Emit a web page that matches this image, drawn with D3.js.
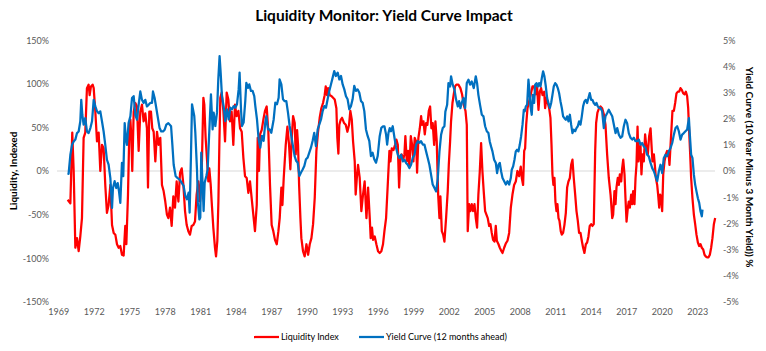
<!DOCTYPE html>
<html>
<head>
<meta charset="utf-8">
<script src="https://cdn.jsdelivr.net/npm/d3@7"></script>
<style>
  body { margin: 0; background: #fff; }
  .chart text { font-family: Lato, "Open Sans", sans-serif; }
</style>
</head>
<body>
<svg class="chart"></svg>
<script>
// decimal year, liquidity index in % (left axis)
const liquidityIndex = [
  [1969.79,-33],[1970.02,-37],[1970.18,44],[1970.30,0],[1970.44,-88],[1970.58,-77],[1970.72,-92],[1970.86,-75],[1971.00,-54],[1971.14,38],[1971.28,44],[1971.42,95],[1971.56,99],[1971.65,87],[1971.76,97],[1971.90,99],[1971.99,95],[1972.13,68],[1972.27,34],[1972.41,44],[1972.55,0],[1972.69,30],[1972.83,26],[1972.97,-16],[1973.11,-48],[1973.25,-39],[1973.40,-16],[1973.54,-62],[1973.68,-71],[1973.82,-73],[1973.96,-84],[1974.10,-88],[1974.24,-86],[1974.38,-96],[1974.52,-97],[1974.66,-63],[1974.75,-84],[1974.89,-27],[1975.00,44],[1975.09,59],[1975.17,40],[1975.25,0],[1975.37,68],[1975.51,78],[1975.65,74],[1975.79,23],[1975.93,68],[1976.07,76],[1976.21,57],[1976.35,66],[1976.49,49],[1976.58,-19],[1976.69,68],[1976.83,68],[1976.94,49],[1977.06,45],[1977.20,11],[1977.34,45],[1977.48,30],[1977.62,38],[1977.76,-16],[1977.90,-23],[1978.04,-35],[1978.18,-50],
  [1978.30,-54],[1978.44,-42],[1978.58,-63],[1978.72,-29],[1978.86,-42],[1979.00,-12],[1979.15,-35],[1979.29,-2],[1979.43,3],[1979.57,-16],[1979.71,-46],[1979.85,-62],[1979.99,-69],[1980.13,-73],[1980.27,-63],[1980.41,-62],[1980.55,-58],[1980.69,-27],[1980.84,-12],[1980.98,-35],[1981.12,0],[1981.26,84],[1981.34,76],[1981.45,38],[1981.54,19],[1981.68,-12],[1981.76,3],[1981.88,-16],[1981.96,-35],[1982.10,-65],[1982.24,-88],[1982.33,-98],[1982.44,-80],[1982.53,-35],[1982.61,30],[1982.69,84],[1982.81,90],[1982.95,69],[1983.09,34],[1983.23,90],[1983.37,82],[1983.51,57],[1983.65,68],[1983.79,30],[1983.93,76],[1984.07,63],[1984.22,69],[1984.36,49],[1984.50,45],[1984.64,15],[1984.78,-6],[1984.92,-8],[1985.06,-25],[1985.20,-12],[1985.34,-31],[1985.48,-50],[1985.62,-69],[1985.77,-39],[1985.85,38],[1985.96,0],[1986.05,42],[1986.19,47],[1986.33,59],[1986.47,69],[1986.61,74],[1986.75,45],[1986.89,-16],[1987.03,-62],[1987.17,-69],[1987.31,-79],[1987.46,-84],[1987.60,-69],
  [1987.71,-54],[1987.85,-19],[1987.94,-39],[1988.05,-8],[1988.22,30],[1988.36,51],[1988.50,30],[1988.61,2],[1988.73,38],[1988.84,63],[1988.98,55],[1989.06,19],[1989.18,47],[1989.26,30],[1989.35,-16],[1989.46,-54],[1989.54,-77],[1989.68,-92],[1989.82,-98],[1989.97,-84],[1990.11,-96],[1990.25,-84],[1990.39,-77],[1990.53,-61],[1990.67,-31],[1990.81,23],[1990.95,45],[1991.09,61],[1991.23,72],[1991.37,78],[1991.51,87],[1991.60,97],[1991.71,87],[1991.80,95],[1991.94,87],[1992.08,86],[1992.22,84],[1992.36,82],[1992.50,72],[1992.58,38],[1992.67,20],[1992.75,53],[1992.87,59],[1992.98,61],[1993.15,55],[1993.29,53],[1993.43,45],[1993.57,53],[1993.68,69],[1993.80,59],[1993.91,34],[1994.05,11],[1994.13,-27],[1994.25,-4],[1994.33,7],[1994.47,-8],[1994.61,-46],[1994.75,-27],[1994.89,-12],[1995.04,-54],[1995.18,-19],[1995.32,-54],[1995.40,-77],[1995.51,-65],[1995.60,-79],[1995.74,-75],[1995.88,-84],[1996.02,-92],[1996.16,-94],[1996.30,-92],[1996.44,-84],
  [1996.56,-69],[1996.70,-54],[1996.84,-16],[1996.98,23],[1997.07,11],[1997.18,26],[1997.32,24],[1997.46,30],[1997.57,36],[1997.69,30],[1997.80,-19],[1997.91,15],[1998.02,19],[1998.14,13],[1998.25,19],[1998.33,40],[1998.45,11],[1998.56,23],[1998.67,5],[1998.79,40],[1998.90,30],[1999.01,11],[1999.12,38],[1999.24,34],[1999.32,-2],[1999.43,38],[1999.55,49],[1999.66,63],[1999.74,53],[1999.86,57],[1999.97,42],[2000.08,55],[2000.19,53],[2000.31,69],[2000.42,74],[2000.53,49],[2000.64,55],[2000.76,30],[2000.87,57],[2000.98,34],[2001.10,-27],[2001.21,-54],[2001.29,-29],[2001.41,-69],[2001.52,-73],[2001.63,-81],[2001.77,-54],[2001.91,-23],[2002.00,7],[2002.11,34],[2002.19,57],[2002.31,78],[2002.42,88],[2002.53,97],[2002.64,99],[2002.81,99],[2002.98,95],[2003.12,88],[2003.26,76],[2003.41,69],[2003.52,53],[2003.60,-69],[2003.72,-38],[2003.83,-46],[2003.94,-38],[2004.05,-46],[2004.17,-38],[2004.28,-54],[2004.39,-65],[2004.50,-27],[2004.62,0],[2004.73,32],[2004.84,0],[2004.95,-23],[2005.07,-46],[2005.18,-50],[2005.29,-54],[2005.41,-63],[2005.52,-61],[2005.63,-71],[2005.74,-79],[2005.86,-81],
  [2005.97,-63],[2006.06,-80],[2006.20,-84],[2006.31,-88],[2006.45,-92],[2006.54,-94],[2006.68,-88],[2006.82,-83],[2006.96,-80],[2007.10,-71],[2007.24,-42],[2007.38,-27],[2007.52,-16],[2007.66,-12],[2007.80,0],[2007.94,-6],[2008.08,5],[2008.17,-8],[2008.28,-16],[2008.37,23],[2008.45,26],[2008.54,53],[2008.65,72],[2008.79,80],[2008.93,88],[2009.07,97],[2009.21,97],[2009.35,88],[2009.46,97],[2009.58,70],[2009.69,91],[2009.80,95],[2009.92,87],[2010.06,91],[2010.14,72],[2010.25,84],[2010.37,78],[2010.48,72],[2010.59,61],[2010.68,30],[2010.76,-4],[2010.84,-16],[2010.93,-8],[2011.01,-35],[2011.10,-46],[2011.18,-38],[2011.27,-54],[2011.35,-57],[2011.46,-69],[2011.55,-73],[2011.66,-71],[2011.77,-62],[2011.89,-48],[2012.00,-19],[2012.11,-12],[2012.23,-8],[2012.34,7],[2012.45,13],[2012.56,-8],[2012.68,-27],[2012.79,-46],[2012.90,-57],[2013.01,-71],[2013.13,-71],[2013.24,-80],[2013.35,-88],[2013.46,-94],[2013.58,-84],[2013.69,-82],[2013.80,-75],[2013.91,-63],[2014.03,-61],[2014.14,-63],[2014.25,-61],[2014.37,23],[2014.45,55],[2014.56,67],[2014.70,72],
  [2014.82,74],[2014.96,72],[2015.10,65],[2015.24,53],[2015.38,19],[2015.52,-8],[2015.67,-27],[2015.81,-54],[2015.89,-50],[2016.00,-23],[2016.09,-38],[2016.17,-19],[2016.28,-8],[2016.37,-16],[2016.45,-4],[2016.57,-12],[2016.65,3],[2016.74,13],[2016.85,-4],[2016.93,-31],[2017.02,-58],[2017.13,-42],[2017.21,-35],[2017.30,-42],[2017.41,-27],[2017.50,-38],[2017.58,-23],[2017.69,-38],[2017.78,-8],[2017.86,7],[2017.95,51],[2018.03,11],[2018.12,23],[2018.20,30],[2018.28,-4],[2018.37,19],[2018.48,11],[2018.59,42],[2018.71,26],[2018.82,19],[2018.93,40],[2019.05,49],[2019.13,30],[2019.21,11],[2019.33,19],[2019.41,7],[2019.50,-8],[2019.61,-16],[2019.69,-27],[2019.78,-42],[2019.86,-27],[2019.95,-31],[2020.03,-46],[2020.12,-4],[2020.23,11],[2020.34,19],[2020.45,23],[2020.57,21],[2020.65,7],[2020.74,30],[2020.82,49],[2020.90,69],[2021.02,69],[2021.13,78],[2021.24,89],[2021.36,91],[2021.47,91],[2021.58,95],[2021.69,93],[2021.81,89],[2021.92,88],[2022.03,91],[2022.14,86],[2022.23,72],[2022.31,46],[2022.40,19],[2022.48,-8],[2022.59,-31],[2022.71,-50],[2022.82,-61],[2022.93,-73],[2023.05,-82],[2023.16,-86],[2023.27,-84],[2023.38,-88],[2023.50,-90],[2023.61,-96],[2023.72,-98],[2023.83,-99],[2023.95,-99],[2024.06,-96],[2024.17,-88],[2024.28,-77],[2024.40,-61],[2024.51,-54]
];

// decimal year, 10y minus 3m yield in % (right axis), 12 months ahead
const yieldCurve = [
  [1969.79,-0.08],[1969.87,-0.11],[1970.02,0.62],[1970.16,1.00],[1970.30,1.13],[1970.44,1.20],[1970.58,1.45],[1970.72,1.51],[1970.86,1.90],[1970.94,2.72],[1971.03,2.15],[1971.14,1.77],[1971.28,2.02],[1971.42,1.51],[1971.56,1.45],[1971.71,1.64],[1971.85,1.90],[1971.99,2.72],[1972.13,2.47],[1972.27,2.28],[1972.41,2.21],[1972.55,2.28],[1972.69,1.90],[1972.83,1.51],[1972.97,1.00],[1973.11,0.43],[1973.25,0.24],[1973.40,-0.27],[1973.54,-1.41],[1973.62,-0.65],[1973.76,-0.39],[1973.90,-0.65],[1974.02,-0.46],[1974.13,-0.78],[1974.24,-1.22],[1974.38,0.31],[1974.49,-0.20],[1974.61,1.83],[1974.72,1.20],[1974.80,1.00],[1974.94,1.83],[1975.09,2.09],[1975.23,2.79],[1975.37,2.86],[1975.51,2.14],[1975.65,1.96],[1975.79,2.53],[1975.93,3.04],[1976.07,2.72],[1976.21,2.60],[1976.35,2.72],[1976.49,2.47],[1976.63,2.53],[1976.77,2.60],[1976.92,2.60],[1977.00,3.04],[1977.14,2.79],[1977.28,2.41],[1977.42,2.02],[1977.56,1.64],[1977.70,1.51],[1977.85,1.51],[1977.99,1.58],[1978.13,1.77],
  [1978.30,1.83],[1978.53,1.71],[1978.64,1.00],[1978.75,0.24],[1978.92,-0.20],[1979.09,-0.27],[1979.26,-0.33],[1979.59,-0.57],[1979.73,-0.95],[1979.87,-1.08],[1980.01,-0.83],[1980.10,-1.59],[1980.21,0.57],[1980.30,2.55],[1980.49,2.10],[1980.58,1.46],[1980.72,0.06],[1980.80,-1.21],[1980.92,-1.85],[1981.00,-1.78],[1981.08,0.70],[1981.20,-0.57],[1981.28,-1.53],[1981.37,-0.45],[1981.51,-0.19],[1981.62,0.06],[1981.73,1.21],[1981.90,2.93],[1982.04,1.59],[1982.13,2.23],[1982.27,1.72],[1982.41,2.23],[1982.52,3.50],[1982.63,4.39],[1982.72,3.76],[1982.83,2.86],[1982.97,2.48],[1983.11,1.91],[1983.25,2.36],[1983.40,1.97],[1983.54,2.42],[1983.68,2.36],[1983.82,2.48],[1983.96,2.42],[1984.10,2.55],[1984.24,3.12],[1984.32,3.76],[1984.44,2.36],[1984.52,1.72],[1984.66,1.85],[1984.80,2.67],[1984.89,3.37],[1985.03,3.18],[1985.14,3.31],[1985.28,3.06],[1985.42,3.06],[1985.56,2.86],[1985.65,2.48],[1985.79,1.97],[1985.93,1.21],[1986.07,0.89],[1986.21,1.34],[1986.35,1.15],[1986.49,1.85],[1986.58,2.10],[1986.72,1.59],[1986.86,1.59],[1987.00,1.46],[1987.20,1.97],[1987.34,2.61],[1987.48,2.55],[1987.62,2.80],[1987.70,3.50],[1987.85,3.31],[1987.99,2.74],[1988.13,2.67],[1988.27,2.67],[1988.41,2.23],[1988.55,1.72],[1988.69,1.34],[1988.83,0.95],[1988.97,0.57],[1989.11,0.38],[1989.23,0.32],[1989.37,-0.19],[1989.51,-0.06],[1989.65,0.06],[1989.79,0.19],[1989.93,0.45],[1990.07,0.51],[1990.21,0.70],[1990.35,0.89],[1990.49,1.15],[1990.63,1.46],[1990.77,0.95],[1990.92,1.59],[1991.06,1.78],[1991.20,1.97],[1991.34,2.29],[1991.48,2.48],[1991.62,2.42],[1991.76,2.74],[1991.90,3.06],[1992.04,3.31],[1992.18,3.56],[1992.32,3.82],[1992.46,3.63],[1992.61,3.76],[1992.75,3.50],[1992.89,3.63],[1993.03,3.31],[1993.17,3.12],[1993.31,2.86],[1993.45,2.74],[1993.59,2.36],[1993.73,2.48],[1993.87,2.74],[1994.01,3.25],[1994.15,3.06],[1994.30,3.12],[1994.44,2.99],[1994.58,2.67],[1994.72,2.61],[1994.86,2.29],[1995.00,1.59],[1995.14,1.34],[1995.28,1.15],[1995.42,0.57],[1995.56,0.70],[1995.70,0.45],[1995.85,0.32],[1995.99,0.57],
  [1996.16,1.33],[1996.30,1.65],[1996.44,1.71],[1996.56,1.71],[1996.70,1.39],[1996.79,1.01],[1996.90,1.45],[1997.01,1.64],[1997.12,1.52],[1997.26,1.71],[1997.41,1.27],[1997.55,0.88],[1997.69,0.62],[1997.83,0.50],[1997.97,0.62],[1998.11,0.37],[1998.25,0.43],[1998.39,0.31],[1998.53,0.24],[1998.67,0.11],[1998.81,0.24],[1998.95,0.50],[1999.10,0.62],[1999.24,1.01],[1999.38,1.14],[1999.52,1.08],[1999.66,1.14],[1999.80,1.01],[1999.94,1.01],[2000.08,0.75],[2000.22,0.50],[2000.36,0.24],[2000.50,-0.14],[2000.64,-0.52],[2000.79,-0.65],[2000.93,-0.78],[2001.07,-0.27],[2001.21,0.75],[2001.35,1.39],[2001.49,1.64],[2001.63,1.71],[2001.71,2.27],[2001.86,2.53],[2001.97,3.36],[2002.11,3.23],[2002.19,3.62],[2002.33,3.30],[2002.48,3.11],[2002.62,2.72],[2002.76,2.47],[2002.87,2.67],[2002.98,2.40],[2003.09,2.60],[2003.24,2.79],[2003.38,2.40],[2003.52,3.36],[2003.66,3.49],[2003.80,3.30],[2003.94,3.42],[2004.11,3.17],[2004.28,3.62],[2004.39,3.36],[2004.50,2.91],[2004.64,2.53],[2004.79,2.15],[2004.93,2.09],[2005.07,1.71],[2005.21,1.52],[2005.35,1.45],[2005.46,1.13],[2005.57,0.94],
  [2005.69,0.75],[2005.83,0.43],[2005.97,0.31],[2006.08,-0.08],[2006.20,0.24],[2006.31,0.31],[2006.42,-0.01],[2006.54,-0.27],[2006.68,-0.39],[2006.82,-0.52],[2006.96,-0.39],[2007.10,-0.52],[2007.24,-0.27],[2007.32,0.05],[2007.44,0.18],[2007.55,0.43],[2007.66,0.75],[2007.77,0.81],[2007.89,0.75],[2008.00,1.01],[2008.11,1.32],[2008.23,1.77],[2008.34,2.34],[2008.42,2.28],[2008.51,2.47],[2008.62,2.53],[2008.73,3.49],[2008.82,3.04],[2008.90,2.47],[2009.01,2.15],[2009.10,2.91],[2009.21,2.60],[2009.30,3.30],[2009.41,3.36],[2009.52,3.23],[2009.63,3.36],[2009.75,3.23],[2009.86,3.55],[2009.97,3.81],[2010.08,3.62],[2010.20,3.23],[2010.31,2.79],[2010.42,2.60],[2010.54,2.41],[2010.65,2.60],[2010.76,2.91],[2010.87,3.23],[2010.99,3.36],[2011.10,3.30],[2011.21,3.17],[2011.32,2.98],[2011.44,2.66],[2011.55,2.41],[2011.66,2.09],[2011.77,2.02],[2011.89,1.96],[2012.00,2.09],[2012.11,1.90],[2012.23,2.15],[2012.34,1.77],[2012.45,1.45],[2012.56,1.58],[2012.68,1.52],[2012.79,1.64],[2012.90,1.71],[2013.01,1.90],[2013.13,1.77],[2013.24,2.09],[2013.35,2.47],[2013.46,2.66],[2013.58,2.72],[2013.69,2.60],[2013.80,2.79],[2013.91,2.98],[2014.03,2.72],[2014.14,2.72],[2014.25,2.60],[2014.37,2.53],[2014.48,2.60],[2014.59,2.47],[2014.70,2.41],
  [2014.82,2.41],[2014.96,2.28],[2015.10,1.64],[2015.24,2.09],[2015.38,2.21],[2015.52,2.34],[2015.67,2.21],[2015.81,2.09],[2015.95,1.77],[2016.09,1.45],[2016.23,1.64],[2016.37,1.39],[2016.51,1.27],[2016.65,1.32],[2016.79,1.71],[2016.93,1.96],[2017.07,1.83],[2017.21,1.45],[2017.36,1.27],[2017.50,1.20],[2017.64,1.27],[2017.78,1.14],[2017.92,1.14],[2018.06,1.20],[2018.20,1.01],[2018.34,1.07],[2018.48,0.94],[2018.62,0.88],[2018.76,0.62],[2018.90,0.56],[2019.05,0.31],[2019.19,0.11],[2019.33,-0.01],[2019.47,-0.20],[2019.61,-0.39],[2019.75,-0.01],[2019.89,0.24],[2020.03,-0.08],[2020.17,0.50],[2020.31,0.62],[2020.45,0.56],[2020.59,0.75],[2020.74,0.88],[2020.88,1.07],[2021.02,1.39],[2021.16,1.64],[2021.30,1.71],[2021.44,1.52],[2021.58,1.20],[2021.72,1.39],[2021.86,1.45],[2022.00,1.52],[2022.14,1.58],[2022.29,2.02],[2022.37,1.39],[2022.48,0.62],[2022.59,0.50],[2022.71,-0.14],[2022.82,-0.52],[2022.93,-0.78],[2023.05,-1.04],[2023.16,-1.22],[2023.27,-1.54],[2023.38,-1.73],[2023.44,-1.48]
];

const yearTicks = [1969,1972,1975,1978,1981,1984,1987,1990,1993,1996,1999,2002,2005,2008,2011,2014,2017,2020,2023];
const leftTicks = [-150,-100,-50,0,50,100,150];
const rightTicks = [-5,-4,-3,-2,-1,0,1,2,3,4,5];

const W = 766, H = 351;
const svg = d3.select(".chart").attr("width", W).attr("height", H);

svg.append("rect").attr("width", W).attr("height", H).attr("fill", "#fff");

const x = d3.scaleLinear().domain([1969, 2023]).range([58.3, 697.3]);
const yL = d3.scaleLinear().domain([-150, 150]).range([301.8, 40.2]);
const yR = d3.scaleLinear().domain([-5, 5]).range([301.8, 40.2]);

// title
svg.append("text")
    .attr("x", 384)
    .attr("y", 21)
    .attr("text-anchor", "middle")
    .style("font-size", "15.5px")
    .style("font-weight", "700")
    .style("fill", "#000")
    .text("Liquidity Monitor: Yield Curve Impact");

// zero line
svg.append("line")
    .attr("x1", 57).attr("x2", 715)
    .attr("y1", yL(0)).attr("y2", yL(0))
    .attr("stroke", "#d9d9d9")
    .attr("stroke-width", 1);

// axes
function styleAxis(g) {
    g.select(".domain").remove();
    g.selectAll(".tick line").remove();
    g.selectAll(".tick text")
        .style("font-size", "9px")
        .style("font-family", "Lato, sans-serif")
        .style("fill", "#595959");
}

svg.append("g")
    .attr("transform", "translate(53,0)")
    .call(d3.axisLeft(yL).tickValues(leftTicks).tickSize(0).tickPadding(4).tickFormat(d => d + "%"))
    .call(styleAxis);

svg.append("g")
    .attr("transform", "translate(719,0)")
    .call(d3.axisRight(yR).tickValues(rightTicks).tickSize(0).tickPadding(4).tickFormat(d => d + "%"))
    .call(styleAxis);

svg.append("g")
    .attr("transform", "translate(0,305)")
    .call(d3.axisBottom(x).tickValues(yearTicks).tickSize(0).tickPadding(4).tickFormat(d3.format("d")))
    .call(styleAxis);

// axis titles
svg.append("text")
    .attr("transform", "translate(17,171) rotate(-90)")
    .attr("text-anchor", "middle")
    .style("font-size", "10px")
    .style("font-weight", "700")
    .text("Liquidity, Indexed");

svg.append("text")
    .attr("transform", "translate(746,167) rotate(90)")
    .attr("text-anchor", "middle")
    .style("font-size", "10px")
    .style("font-weight", "700")
    .text("Yield Curve (10 Year Minus 3 Month Yield)) %");

// lines
const lineL = d3.line().x(d => x(d[0])).y(d => yL(d[1]));
const lineR = d3.line().x(d => x(d[0])).y(d => yR(d[1]));

svg.append("path")
    .datum(liquidityIndex)
    .attr("fill", "none")
    .attr("stroke", "#ff0000")
    .attr("stroke-width", 2.25)
    .attr("stroke-linejoin", "round")
    .attr("d", lineL);

svg.append("path")
    .datum(yieldCurve)
    .attr("fill", "none")
    .attr("stroke", "#0070c0")
    .attr("stroke-width", 2.25)
    .attr("stroke-linejoin", "round")
    .attr("d", lineR);

// legend
const legend = [
    {label: "Liquidity Index", color: "#ff0000", x: 254},
    {label: "Yield Curve (12 months ahead)", color: "#0070c0", x: 359}
];
const lg = svg.append("g").attr("transform", "translate(0,337)");
legend.forEach(function(d) {
    lg.append("line")
        .attr("x1", d.x).attr("x2", d.x + 25)
        .attr("y1", 0).attr("y2", 0)
        .attr("stroke", d.color)
        .attr("stroke-width", 2.25);
    lg.append("text")
        .attr("x", d.x + 27)
        .attr("y", 3.2)
        .style("font-size", "9px")
        .style("fill", "#000")
        .text(d.label);
});
</script>
</body>
</html>
